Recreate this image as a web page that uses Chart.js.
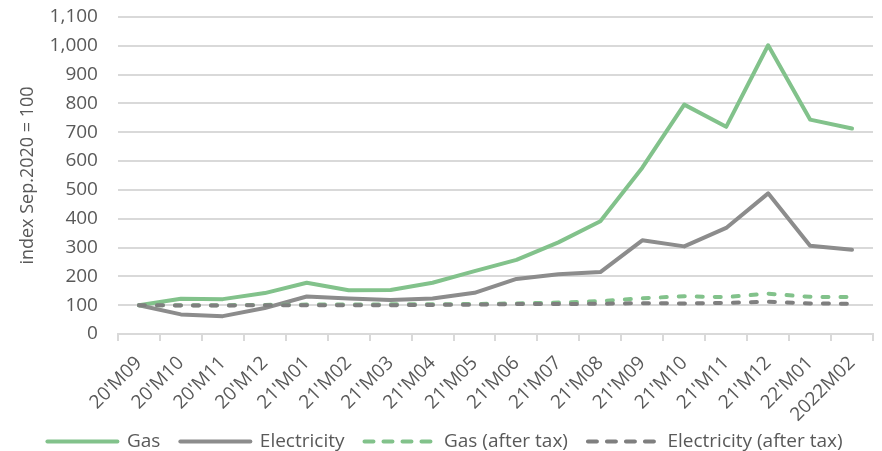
<!DOCTYPE html>
<html>
<head>
<meta charset="utf-8">
<script src="https://cdn.jsdelivr.net/npm/chart.js@4.4.1/dist/chart.umd.min.js"></script>
<style>
  html, body { margin: 0; padding: 0; background: #fff; }
  #wrap { width: 882px; height: 451px; position: relative; }
</style>
</head>
<body>
<div id="wrap"><canvas id="chart"></canvas></div>
<script>
// Monthly energy price index, Sep.2020 = 100
const months = ["20'M09", "20'M10", "20'M11", "20'M12", "21'M01", "21'M02", "21'M03", "21'M04", "21'M05",
                "21'M06", "21'M07", "21'M08", "21'M09", "21'M10", "21'M11", "21'M12", "22'M01", "2022M02"];

const gas = [100, 122, 121, 142, 178, 152, 153, 178, 218, 257, 318, 391, 577, 796, 719, 1002, 744, 713];
const electricity = [100, 68, 62, 90, 130, 123, 118, 123, 143, 191, 207, 215, 325, 304, 368, 488, 306, 292];
const gasAfterTax = [100, 100, 100, 101, 102, 102, 103, 103, 104, 106, 109, 114, 124, 131, 128, 140, 129, 128];
const elecAfterTax = [100, 99, 99, 100, 100, 100, 100, 101, 102, 104, 104, 105, 107, 106, 108, 112, 106, 105];

const GREEN = '#82c28b';
const GREY = '#8c8c8c';
const DARK_GREY = '#7f7f7f';
const TEXT = '#595959';
const FONT = '"Open Sans", "Noto Sans", sans-serif';

function series(label, data, color, dashed) {
    return {
        label,
        data,
        borderColor: color,
        backgroundColor: color,
        borderWidth: 4,
        borderDash: dashed ? [6, 12] : [],
        borderCapStyle: 'round',
        borderJoinStyle: 'round',
        pointRadius: 0,
        tension: 0,
        fill: false
    };
}

// legend keeps the dataset dash pattern (point styles drop it otherwise)
function legendLabels(chart) {
    const items = Chart.defaults.plugins.legend.labels.generateLabels(chart);
    items.forEach(item => {
        const ds = chart.data.datasets[item.datasetIndex];
        item.lineDash = ds.borderDash.length ? [9, 10] : [];
        item.lineWidth = 4;
        item.lineCap = 'round';
        item.strokeStyle = ds.borderColor;
    });
    return items;
}

const ctx = document.getElementById('chart').getContext('2d');
new Chart(ctx, {
    type: 'line',
    data: {
        labels: months,
        datasets: [
            series('Electricity (after tax)', elecAfterTax, DARK_GREY, true),
            series('Gas (after tax)', gasAfterTax, GREEN, true),
            series('Electricity', electricity, GREY, false),
            series('Gas', gas, GREEN, false)
        ]
    },
    options: {
        responsive: true,
        maintainAspectRatio: false,
        animation: false,
        layout: { padding: { top: 0, right: 9, left: 17, bottom: -10 } },
        plugins: {
            tooltip: { enabled: false },
            legend: {
                position: 'bottom',
                reverse: true,
                labels: {
                    color: TEXT,
                    font: { family: FONT, size: 19 },
                    usePointStyle: true,
                    pointStyle: 'line',
                    pointStyleWidth: 70,
                    padding: 20,
                    generateLabels: legendLabels
                }
            }
        },
        scales: {
            x: {
                offset: true,
                // the slanted month labels run into the legend's top margin
                afterFit: scale => {
                    scale.height = 78;
                    scale._computeLabelArea = () => null;
                },
                grid: {
                    display: true,
                    offset: true,
                    drawOnChartArea: false,
                    drawTicks: true,
                    tickLength: 7,
                    color: '#d9d9d9',
                    lineWidth: 2
                },
                border: { display: true, color: '#d9d9d9', width: 2 },
                ticks: {
                    color: TEXT,
                    font: { family: FONT, size: 19 },
                    minRotation: 45,
                    maxRotation: 45,
                    autoSkip: false,
                    padding: 11
                }
            },
            y: {
                min: 0,
                max: 1100,
                afterFit: scale => {
                    scale.paddingTop = 17;
                    scale.paddingBottom = 12;
                },
                grid: { color: '#d9d9d9', lineWidth: 2, drawTicks: false },
                border: { display: false },
                ticks: {
                    stepSize: 100,
                    maxTicksLimit: 12,
                    autoSkip: false,
                    color: TEXT,
                    font: { family: FONT, size: 19 },
                    padding: 20,
                    callback: v => v.toLocaleString('en-US')
                },
                title: {
                    display: true,
                    text: 'index Sep.2020 = 100',
                    color: TEXT,
                    font: { family: FONT, size: 18 },
                    padding: { top: 0, bottom: -9 }
                }
            }
        }
    }
});
</script>
</body>
</html>
